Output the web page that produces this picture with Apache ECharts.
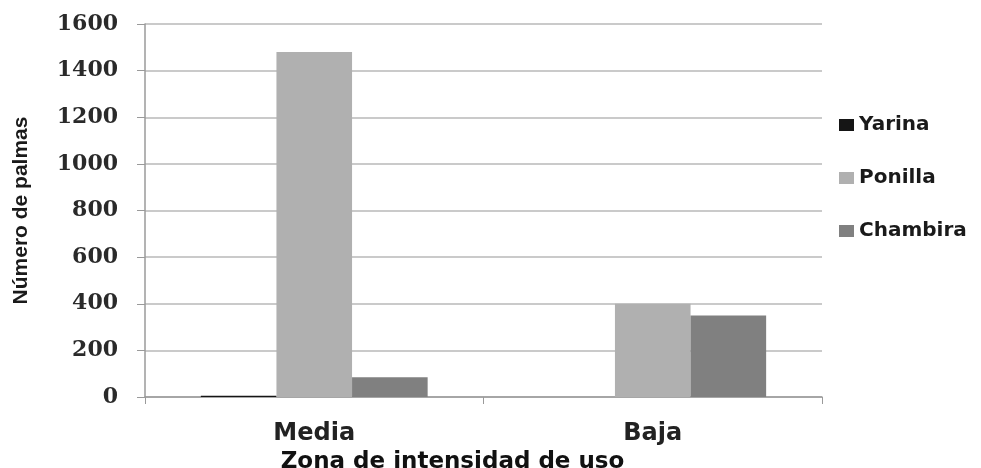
<!DOCTYPE html>
<html>
<head>
<meta charset="utf-8">
<script src="https://cdn.jsdelivr.net/npm/echarts@6/dist/echarts.min.js"></script>
<style>html,body{margin:0;padding:0;background:#fff}#c{width:981px;height:468px}</style>
</head>
<body>
<div id="c"></div>
<script>
const categories = ["Media", "Baja"];
const yarina = [5, 0];
const ponilla = [1480, 400];
const chambira = [85, 350];
const seriesNames = ["Yarina", "Ponilla", "Chambira"];
const seriesColors = ["#151515", "#b0b0b0", "#808080"];
const yTicks = [0, 200, 400, 600, 800, 1000, 1200, 1400, 1600];

const chart = echarts.init(document.getElementById('c'), null, {renderer: 'canvas'});
const values = [yarina, ponilla, chambira];
chart.setOption({
  animation: false,
  backgroundColor: '#fff',
  grid: {left: 145, right: 159, top: 24, bottom: 71, containLabel: false, outerBoundsMode: 'none'},
  legend: {
    orient: 'vertical', left: 834, top: 110, itemGap: 33,
    itemWidth: 15, itemHeight: 12, icon: 'rect',
    textStyle: {fontFamily: 'DejaVu Sans', fontWeight: 'bold', fontSize: 20, color: '#1a1a1a'},
    data: seriesNames
  },
  xAxis: {
    type: 'category', data: categories,
    name: 'Zona de intensidad de uso', nameLocation: 'middle', nameGap: 46,
    nameTextStyle: {fontFamily: 'DejaVu Sans', fontWeight: 'bold', fontSize: 23, color: '#111', padding: [0, 62, 0, 0]},
    axisLine: {lineStyle: {color: '#9a9a9a', width: 1.5}},
    axisTick: {show: true, length: 7, lineStyle: {color: '#9a9a9a'}},
    axisLabel: {fontFamily: 'DejaVu Sans', fontWeight: 'bold', fontSize: 24, color: '#222', margin: 25}
  },
  yAxis: {
    type: 'value', min: 0, max: 1600, interval: 200,
    name: 'Número de palmas', nameLocation: 'middle', nameGap: 113, nameRotate: 90,
    nameTextStyle: {fontFamily: 'Liberation Sans', fontWeight: 'bold', fontSize: 21, color: '#1a1a1a'},
    axisLine: {show: true, lineStyle: {color: '#9a9a9a', width: 1.5}},
    axisTick: {show: true, length: 8, lineStyle: {color: '#9a9a9a'}},
    axisLabel: {fontFamily: 'DejaVu Serif', fontWeight: 'bold', fontSize: 22, color: '#2a2a2a', margin: 27,
      formatter: v => yTicks.includes(v) ? String(v) : ''},
    splitLine: {lineStyle: {color: '#b8b8b8', width: 1.5}}
  },
  series: seriesNames.map((n, i) => ({
    name: n, type: 'bar', data: values[i],
    barGap: '0%', barCategoryGap: '33%',
    itemStyle: {color: seriesColors[i]}
  }))
});
</script>
</body>
</html>
